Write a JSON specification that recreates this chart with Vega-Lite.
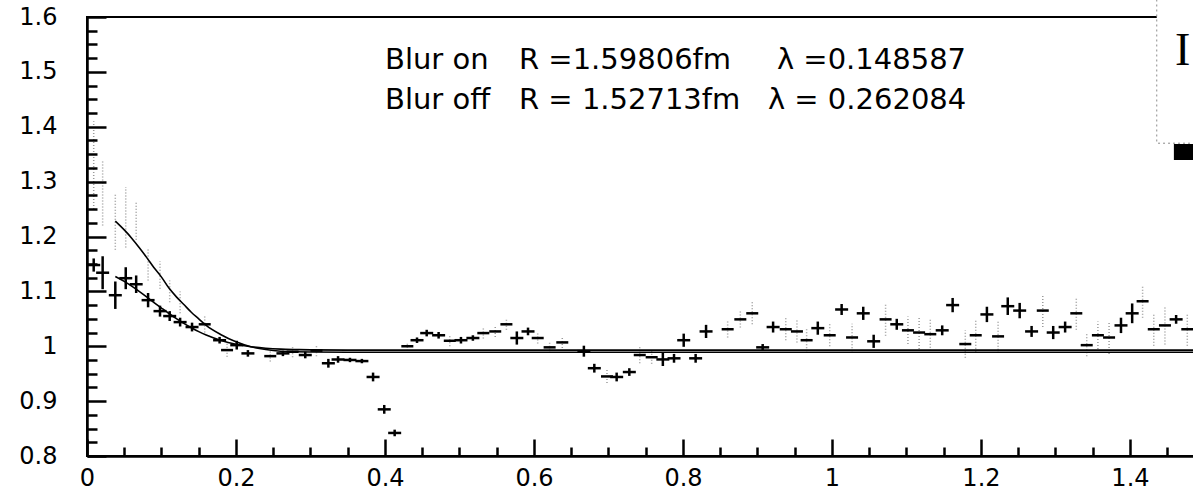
{
  "$schema": "https://vega.github.io/schema/vega-lite/v6.json",
  "width": 1107,
  "height": 439,
  "autosize": {"type": "none"},
  "padding": {"left": 87, "top": 17, "right": 0, "bottom": 38},
  "background": "white",
  "config": {
    "view": {"stroke": "black", "strokeWidth": 2},
    "axis": {"grid": false, "title": null}
  },
  "datasets": {
    "on": [
      {"q": 0.009, "c": 1.148, "e": 0.012}, {"q": 0.021, "c": 1.134, "e": 0.03}, {"q": 0.038, "c": 1.093, "e": 0.025},
      {"q": 0.052, "c": 1.124, "e": 0.02}, {"q": 0.066, "c": 1.113, "e": 0.016}, {"q": 0.082, "c": 1.084, "e": 0.013},
      {"q": 0.098, "c": 1.064, "e": 0.01}, {"q": 0.111, "c": 1.055, "e": 0.009}, {"q": 0.125, "c": 1.044, "e": 0.008},
      {"q": 0.141, "c": 1.035, "e": 0.008}, {"q": 0.178, "c": 1.011, "e": 0.006}, {"q": 0.201, "c": 1.002, "e": 0.008},
      {"q": 0.216, "c": 0.987, "e": 0.006}, {"q": 0.263, "c": 0.987, "e": 0.005}, {"q": 0.293, "c": 0.984, "e": 0.006},
      {"q": 0.324, "c": 0.969, "e": 0.008}, {"q": 0.337, "c": 0.976, "e": 0.006}, {"q": 0.353, "c": 0.975, "e": 0.004},
      {"q": 0.369, "c": 0.973, "e": 0.004}, {"q": 0.384, "c": 0.944, "e": 0.008}, {"q": 0.399, "c": 0.885, "e": 0.008},
      {"q": 0.413, "c": 0.842, "e": 0.006}, {"q": 0.443, "c": 1.011, "e": 0.005}, {"q": 0.456, "c": 1.024, "e": 0.006},
      {"q": 0.472, "c": 1.02, "e": 0.006}, {"q": 0.502, "c": 1.011, "e": 0.006}, {"q": 0.518, "c": 1.015, "e": 0.005},
      {"q": 0.577, "c": 1.015, "e": 0.012}, {"q": 0.592, "c": 1.027, "e": 0.007}, {"q": 0.667, "c": 0.991, "e": 0.01},
      {"q": 0.681, "c": 0.96, "e": 0.008}, {"q": 0.711, "c": 0.944, "e": 0.008}, {"q": 0.728, "c": 0.953, "e": 0.007},
      {"q": 0.773, "c": 0.976, "e": 0.012}, {"q": 0.788, "c": 0.978, "e": 0.008}, {"q": 0.801, "c": 1.011, "e": 0.012},
      {"q": 0.817, "c": 0.978, "e": 0.008}, {"q": 0.831, "c": 1.027, "e": 0.012}, {"q": 0.907, "c": 0.998, "e": 0.006},
      {"q": 0.921, "c": 1.035, "e": 0.01}, {"q": 0.981, "c": 1.033, "e": 0.012}, {"q": 1.013, "c": 1.067, "e": 0.01},
      {"q": 1.042, "c": 1.06, "e": 0.012}, {"q": 1.056, "c": 1.009, "e": 0.012}, {"q": 1.087, "c": 1.04, "e": 0.01},
      {"q": 1.148, "c": 1.029, "e": 0.009}, {"q": 1.162, "c": 1.075, "e": 0.013}, {"q": 1.208, "c": 1.058, "e": 0.014},
      {"q": 1.236, "c": 1.073, "e": 0.016}, {"q": 1.252, "c": 1.065, "e": 0.014}, {"q": 1.268, "c": 1.027, "e": 0.01},
      {"q": 1.297, "c": 1.025, "e": 0.012}, {"q": 1.313, "c": 1.035, "e": 0.01}, {"q": 1.388, "c": 1.038, "e": 0.014},
      {"q": 1.403, "c": 1.06, "e": 0.018}, {"q": 1.462, "c": 1.049, "e": 0.008}
    ],
    "off": [
      {"q": 0.009, "c": 1.33, "e": 0.08}, {"q": 0.021, "c": 1.28, "e": 0.06}, {"q": 0.038, "c": 1.226, "e": 0.05},
      {"q": 0.052, "c": 1.235, "e": 0.055}, {"q": 0.066, "c": 1.229, "e": 0.035}, {"q": 0.082, "c": 1.15, "e": 0.03},
      {"q": 0.098, "c": 1.13, "e": 0.025}, {"q": 0.111, "c": 1.1, "e": 0.02}, {"q": 0.125, "c": 1.08, "e": 0.02},
      {"q": 0.158, "c": 1.04, "e": 0.015}, {"q": 0.188, "c": 0.993, "e": 0.012}, {"q": 0.246, "c": 0.982, "e": 0.01},
      {"q": 0.276, "c": 0.99, "e": 0.01}, {"q": 0.308, "c": 0.992, "e": 0.01}, {"q": 0.43, "c": 1.0, "e": 0.008},
      {"q": 0.487, "c": 1.01, "e": 0.01}, {"q": 0.532, "c": 1.024, "e": 0.01}, {"q": 0.548, "c": 1.027, "e": 0.01},
      {"q": 0.563, "c": 1.04, "e": 0.01}, {"q": 0.605, "c": 1.015, "e": 0.01}, {"q": 0.621, "c": 0.998, "e": 0.01},
      {"q": 0.638, "c": 1.007, "e": 0.01}, {"q": 0.698, "c": 0.945, "e": 0.012}, {"q": 0.742, "c": 0.984, "e": 0.015},
      {"q": 0.758, "c": 0.98, "e": 0.012}, {"q": 0.86, "c": 1.031, "e": 0.015}, {"q": 0.877, "c": 1.049, "e": 0.015},
      {"q": 0.893, "c": 1.06, "e": 0.02}, {"q": 0.938, "c": 1.031, "e": 0.02}, {"q": 0.953, "c": 1.027, "e": 0.02},
      {"q": 0.966, "c": 1.011, "e": 0.02}, {"q": 0.997, "c": 1.02, "e": 0.02}, {"q": 1.027, "c": 1.016, "e": 0.025},
      {"q": 1.072, "c": 1.049, "e": 0.03}, {"q": 1.102, "c": 1.029, "e": 0.025}, {"q": 1.117, "c": 1.025, "e": 0.03},
      {"q": 1.132, "c": 1.022, "e": 0.03}, {"q": 1.179, "c": 1.004, "e": 0.025}, {"q": 1.193, "c": 1.02, "e": 0.03},
      {"q": 1.223, "c": 1.018, "e": 0.03}, {"q": 1.283, "c": 1.065, "e": 0.03}, {"q": 1.328, "c": 1.06, "e": 0.03},
      {"q": 1.342, "c": 1.002, "e": 0.02}, {"q": 1.357, "c": 1.02, "e": 0.025}, {"q": 1.372, "c": 1.016, "e": 0.03},
      {"q": 1.417, "c": 1.082, "e": 0.03}, {"q": 1.432, "c": 1.031, "e": 0.03}, {"q": 1.447, "c": 1.038, "e": 0.035},
      {"q": 1.477, "c": 1.031, "e": 0.03}
    ],
    "curves": [
      {"fit": "on", "q": 0.038, "c": 1.1272}, {"fit": "on", "q": 0.05, "c": 1.1182}, {"fit": "on", "q": 0.06, "c": 1.1095},
      {"fit": "on", "q": 0.07, "c": 1.1}, {"fit": "on", "q": 0.08, "c": 1.09}, {"fit": "on", "q": 0.09, "c": 1.0797},
      {"fit": "on", "q": 0.1, "c": 1.0696}, {"fit": "on", "q": 0.11, "c": 1.0597}, {"fit": "on", "q": 0.12, "c": 1.0504},
      {"fit": "on", "q": 0.13, "c": 1.0417}, {"fit": "on", "q": 0.14, "c": 1.0338}, {"fit": "on", "q": 0.15, "c": 1.0267},
      {"fit": "on", "q": 0.16, "c": 1.0205}, {"fit": "on", "q": 0.18, "c": 1.0106}, {"fit": "on", "q": 0.2, "c": 1.0037},
      {"fit": "on", "q": 0.22, "c": 0.9992}, {"fit": "on", "q": 0.24, "c": 0.9964}, {"fit": "on", "q": 0.26, "c": 0.9947},
      {"fit": "on", "q": 0.28, "c": 0.9939}, {"fit": "on", "q": 0.3, "c": 0.9934}, {"fit": "on", "q": 0.35, "c": 0.993},
      {"fit": "on", "q": 0.4, "c": 0.993}, {"fit": "on", "q": 1.49, "c": 0.993},
      {"fit": "off", "q": 0.038, "c": 1.228}, {"fit": "off", "q": 0.05, "c": 1.212}, {"fit": "off", "q": 0.06, "c": 1.197},
      {"fit": "off", "q": 0.07, "c": 1.18}, {"fit": "off", "q": 0.08, "c": 1.162}, {"fit": "off", "q": 0.09, "c": 1.143},
      {"fit": "off", "q": 0.1, "c": 1.126}, {"fit": "off", "q": 0.11, "c": 1.106}, {"fit": "off", "q": 0.12, "c": 1.09},
      {"fit": "off", "q": 0.13, "c": 1.076}, {"fit": "off", "q": 0.14, "c": 1.062}, {"fit": "off", "q": 0.15, "c": 1.05},
      {"fit": "off", "q": 0.16, "c": 1.038}, {"fit": "off", "q": 0.18, "c": 1.021}, {"fit": "off", "q": 0.2, "c": 1.008},
      {"fit": "off", "q": 0.22, "c": 0.999}, {"fit": "off", "q": 0.24, "c": 0.994}, {"fit": "off", "q": 0.26, "c": 0.991},
      {"fit": "off", "q": 0.28, "c": 0.99}, {"fit": "off", "q": 0.3, "c": 0.9895}, {"fit": "off", "q": 0.35, "c": 0.989},
      {"fit": "off", "q": 0.4, "c": 0.989}, {"fit": "off", "q": 1.49, "c": 0.989}
    ],
    "notes": [
      {"q": 0.4, "c": 1.5052, "label": "Blur on"},
      {"q": 0.5799, "c": 1.5052, "label": "R =1.59806fm"},
      {"q": 0.9262, "c": 1.5052, "label": "λ =0.148587"},
      {"q": 0.4, "c": 1.4323, "label": "Blur off"},
      {"q": 0.5799, "c": 1.4323, "label": "R = 1.52713fm"},
      {"q": 0.9141, "c": 1.4323, "label": "λ = 0.262084"}
    ]
  },
  "resolve": {"axis": {"x": "independent", "y": "independent"}},
  "layer": [
    {
      "data": {"name": "off"},
      "mark": {"type": "errorbar", "ticks": false, "rule": {"stroke": "#9a9a9a", "strokeWidth": 1.5, "strokeDash": [1, 2]}},
      "encoding": {
        "x": {"field": "q", "type": "quantitative", "scale": {"domain": [0, 1.486], "nice": false, "zero": false}, "axis": null},
        "y": {"field": "c", "type": "quantitative", "scale": {"domain": [0.8, 1.6], "nice": false, "zero": false}, "axis": null},
        "yError": {"field": "e"}
      }
    },
    {
      "data": {"name": "curves"},
      "mark": {"type": "line", "color": "black", "strokeWidth": 1.6, "interpolate": "monotone"},
      "encoding": {
        "x": {"field": "q", "type": "quantitative", "scale": {"domain": [0, 1.486], "nice": false, "zero": false},
          "axis": {"orient": "bottom", "zindex": 1, "values": [0, 0.2, 0.4, 0.6, 0.8, 1, 1.2, 1.4], "format": "~g", "tickSize": -17, "tickWidth": 2.5, "tickColor": "black",
            "domainColor": "black", "domainWidth": 2.5, "labelFont": "DejaVu Sans", "labelFontSize": 24, "labelColor": "black", "labelPadding": 27,
            "labelFlush": false, "labelOverlap": false, "grid": false}},
        "y": {"field": "c", "type": "quantitative", "scale": {"domain": [0.8, 1.6], "nice": false, "zero": false},
          "axis": {"orient": "left", "zindex": 1, "values": [0.8, 0.9, 1, 1.1, 1.2, 1.3, 1.4, 1.5, 1.6], "format": "~g", "tickSize": -19, "tickWidth": 2.5, "tickColor": "black",
            "domainColor": "black", "domainWidth": 2.5, "labelFont": "DejaVu Sans", "labelFontSize": 24, "labelColor": "black", "labelPadding": 49,
            "labelFlush": false, "labelOverlap": false, "grid": false}},
        "detail": {"field": "fit"}
      }
    },
    {
      "data": {"name": "on"},
      "mark": {"type": "errorbar", "ticks": false, "rule": {"stroke": "black", "strokeWidth": 2.5}},
      "encoding": {
        "x": {"field": "q", "type": "quantitative", "axis": null},
        "y": {"field": "c", "type": "quantitative", "axis": null},
        "yError": {"field": "e"}
      }
    },
    {
      "data": {"name": "off"},
      "transform": [{"filter": "datum.q > 0.15"}],
      "mark": {"type": "tick", "orient": "horizontal", "color": "black", "size": 12, "thickness": 2.5, "opacity": 1},
      "encoding": {
        "x": {"field": "q", "type": "quantitative", "axis": null},
        "y": {"field": "c", "type": "quantitative", "axis": null}
      }
    },
    {
      "data": {"name": "on"},
      "mark": {"type": "tick", "orient": "horizontal", "color": "black", "size": 13, "thickness": 2.5, "opacity": 1},
      "encoding": {
        "x": {"field": "q", "type": "quantitative",
          "axis": {"orient": "bottom", "zindex": 1, "values": [0.05, 0.1, 0.15, 0.25, 0.3, 0.35, 0.45, 0.5, 0.55, 0.65, 0.7, 0.75, 0.85, 0.9, 0.95, 1.05, 1.1, 1.15, 1.25, 1.3, 1.35, 1.45],
            "tickSize": -9, "tickWidth": 2.5, "tickColor": "black", "labels": false, "domain": false, "grid": false}},
        "y": {"field": "c", "type": "quantitative",
          "axis": {"orient": "left", "zindex": 1, "values": [0.825, 0.85, 0.875, 0.925, 0.95, 0.975, 1.025, 1.05, 1.075, 1.125, 1.15, 1.175, 1.225, 1.25, 1.275, 1.325, 1.35, 1.375, 1.425, 1.45, 1.475, 1.525, 1.55, 1.575],
            "tickSize": -10, "tickWidth": 2.5, "tickColor": "black", "labels": false, "domain": false, "grid": false}}
      }
    },
    {
      "data": {"name": "notes"},
      "mark": {"type": "text", "align": "left", "baseline": "alphabetic", "font": "DejaVu Sans", "fontSize": 29, "color": "black"},
      "encoding": {
        "x": {"field": "q", "type": "quantitative", "axis": null},
        "y": {"field": "c", "type": "quantitative", "axis": null},
        "text": {"field": "label"}
      }
    },
    {
      "data": {"values": [{}]},
      "mark": {"type": "rect", "fill": "white", "stroke": "#8a8a8a", "strokeWidth": 1, "strokeDash": [2, 3]},
      "encoding": {
        "x": {"datum": 1.436, "type": "quantitative", "axis": null},
        "x2": {"datum": 1.62},
        "y": {"datum": 1.37, "type": "quantitative", "axis": null},
        "y2": {"datum": 1.66}
      }
    },
    {
      "data": {"values": [{}]},
      "mark": {"type": "rect", "fill": "black"},
      "encoding": {
        "x": {"datum": 1.459, "type": "quantitative", "axis": null},
        "x2": {"datum": 1.62},
        "y": {"datum": 1.3394, "type": "quantitative", "axis": null},
        "y2": {"datum": 1.3686}
      }
    },
    {
      "data": {"values": [{"t": "I"}]},
      "mark": {"type": "text", "align": "left", "baseline": "alphabetic", "font": "Liberation Serif", "fontSize": 46, "color": "black"},
      "encoding": {
        "x": {"datum": 1.4604, "type": "quantitative", "axis": null},
        "y": {"datum": 1.5125, "type": "quantitative", "axis": null},
        "text": {"field": "t"}
      }
    }
  ]
}
